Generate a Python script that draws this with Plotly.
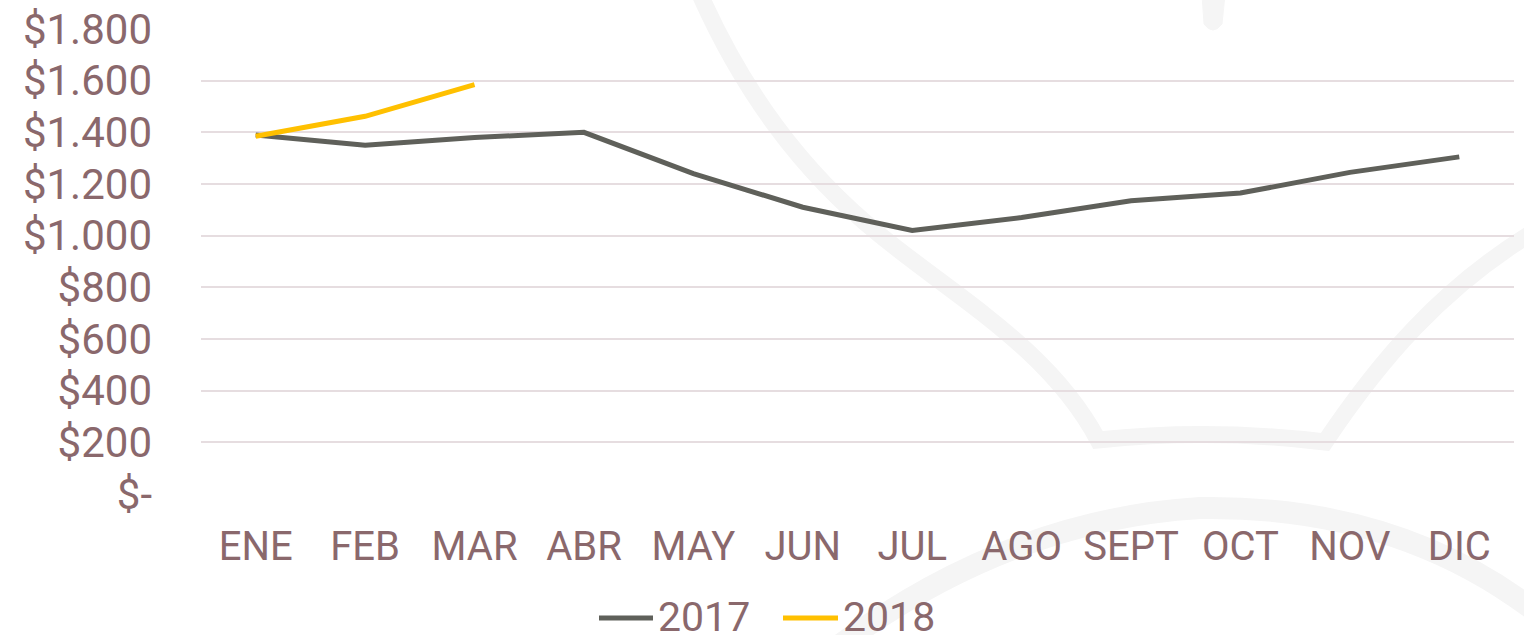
import plotly.graph_objects as go

months = ["ENE", "FEB", "MAR", "ABR", "MAY", "JUN", "JUL", "AGO", "SEPT", "OCT", "NOV", "DIC"]
values_2017 = [1390, 1350, 1380, 1400, 1240, 1110, 1020, 1070, 1135, 1165, 1245, 1305]
values_2018 = [1385, 1462, 1585]
y_tickvals = [0, 200, 400, 600, 800, 1000, 1200, 1400, 1600, 1800]
y_ticktext = ["$-", "$200", "$400", "$600", "$800", "$1.000", "$1.200", "$1.400", "$1.600", "$1.800"]
series_names = ["2017", "2018"]
series_colors = ["#5f605a", "#ffc000"]

TEXT = "#8a686c"
GRID = "#e6dde0"
WM = "#f5f5f5"

W, H = 1524, 635
ML, MR, MT, MB = 201, 10, 29, 141
PW, PH = W - ML - MR, H - MT - MB


def px(x, y):
    return (x - ML) / PW, (H - MB - y) / PH


def path(cmds):
    out = []
    for c in cmds:
        if isinstance(c, str):
            out.append(c)
        else:
            a, b = px(*c)
            out.append(f"{a:.5f},{b:.5f}")
    return " ".join(out)


fig = go.Figure()
fig.add_trace(go.Scatter(x=months, y=values_2017, name=series_names[0], mode="lines",
                         line=dict(color=series_colors[0], width=5)))
fig.add_trace(go.Scatter(x=months[:len(values_2018)], y=values_2018, name=series_names[1], mode="lines",
                         line=dict(color=series_colors[1], width=5)))

# faint background watermark
shapes = [
    dict(type="path", xref="paper", yref="paper", layer="below",
         path=path(["M", (698, -10), "C", (742, 90), (800, 170), (880, 235),
                    "C", (960, 300), (1050, 350), (1098, 440),
                    "Q", (1210, 428), (1325, 442),
                    "C", (1380, 360), (1440, 290), (1530, 234)]),
         line=dict(color=WM, width=17)),
    dict(type="path", xref="paper", yref="paper", layer="below",
         path=path(["M", (820, 660), "Q", (1000, 520), (1200, 508), "Q", (1400, 505), (1540, 615)]),
         line=dict(color=WM, width=22)),
    dict(type="path", xref="paper", yref="paper", layer="below",
         path=path(["M", (1202, -5), "L", (1225, -5), "L", (1222, 24), "Q", (1213, 36), (1204, 24), "Z"]),
         line=dict(color=WM, width=1), fillcolor=WM),
]

# legend drawn below the plot (longer line samples, as in the original)
annotations = []
legend_x = [(599, 653), (783, 838)]
legend_y = 618
for name, color, (x0, x1) in zip(series_names, series_colors, legend_x):
    a0, b0 = px(x0, legend_y)
    a1, _ = px(x1, legend_y)
    shapes.append(dict(type="line", xref="paper", yref="paper", x0=a0, x1=a1, y0=b0, y1=b0,
                       line=dict(color=color, width=5)))
    ta, tb = px(x1 + 3, legend_y - 1)
    annotations.append(dict(xref="paper", yref="paper", x=ta, y=tb, xanchor="left", yanchor="middle",
                            text=name, showarrow=False, font=dict(size=41, color=TEXT)))

fig.update_layout(
    width=W, height=H,
    margin=dict(l=ML, r=MR, t=MT, b=MB, autoexpand=False),
    paper_bgcolor="white",
    plot_bgcolor="rgba(0,0,0,0)",
    font=dict(family="Roboto", color=TEXT, size=40),
    shapes=shapes,
    annotations=annotations,
    showlegend=False,
    xaxis=dict(type="category", range=[-0.5, 11.5], showgrid=False, zeroline=False, showline=False,
               automargin=False, tickfont=dict(size=40, color=TEXT), ticklabelstandoff=25),
    yaxis=dict(range=[0, 1800], tickvals=y_tickvals, ticktext=y_ticktext, automargin=False,
               showgrid=True, gridcolor=GRID, gridwidth=2, zeroline=False, showline=False,
               tickfont=dict(size=42, color=TEXT), ticklabelstandoff=48),
)

fig.write_html("out.html", config={"displayModeBar": False},
               post_script="document.body.style.margin='0';document.body.style.overflow='hidden';")
